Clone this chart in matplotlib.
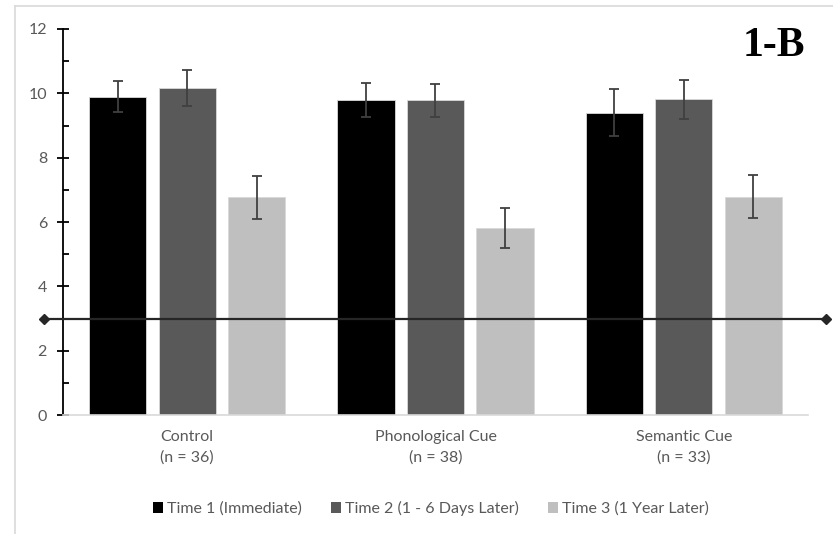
import numpy as np
import matplotlib
matplotlib.use('Agg')
import matplotlib.pyplot as plt
from matplotlib.lines import Line2D
from matplotlib.patches import Patch
from matplotlib.ticker import MultipleLocator

# group labels and scores per testing time
groups = ['Control\n(n = 36)', 'Phonological Cue\n(n = 38)', 'Semantic Cue\n(n = 33)']
series = ['Time 1 (Immediate)', 'Time 2 (1 - 6 Days Later)', 'Time 3 (1 Year Later)']
means = [[9.90, 9.80, 9.40],
         [10.17, 9.78, 9.81],
         [6.77, 5.82, 6.79]]
errors = [[0.47, 0.53, 0.72],
          [0.55, 0.52, 0.62],
          [0.67, 0.62, 0.67]]
chance = 3
colors = ['#000000', '#595959', '#bfbfbf']

plt.rcParams['font.family'] = ['Lato', 'DejaVu Sans']

fig = plt.figure(figsize=(8.33, 5.34), dpi=100)
ax = fig.add_axes([0.0756, 0.2228, 0.8944, 0.7229])

x = np.arange(len(groups))
width = 0.23
step = 0.28
for i in range(len(series)):
    ax.bar(x + (i - 1) * step, means[i], width, color=colors[i],
           edgecolor='#d9d9d9', linewidth=0.6, label=series[i], zorder=2)
    ax.errorbar(x + (i - 1) * step, means[i], yerr=errors[i], fmt='none',
                ecolor='#404040', elinewidth=1.3, capsize=3.5, capthick=1.3,
                zorder=3)

# chance level line running past both ends of the plot
ax.plot([-0.0255, 1.024], [chance, chance], color='#262626', lw=1.6,
        marker='D', markersize=5, transform=ax.get_yaxis_transform(),
        clip_on=False, zorder=4)

ax.set_xlim(-0.5, 2.5)
ax.set_ylim(0, 12)
ax.set_xticks(x)
ax.set_xticklabels(groups, color='#595959', fontsize=11.5, linespacing=1.55)
ax.tick_params(axis='x', length=0, pad=11)
ax.yaxis.set_major_locator(MultipleLocator(2))
ax.yaxis.set_minor_locator(MultipleLocator(1))
ax.tick_params(axis='y', which='major', direction='inout', length=9,
               width=1.3, color='black', labelcolor='#595959', labelsize=11.5, pad=7)
ax.tick_params(axis='y', which='minor', direction='in', length=4,
               width=1.3, color='black')

for side in ['top', 'right']:
    ax.spines[side].set_visible(False)
ax.spines['left'].set_color('black')
ax.spines['left'].set_linewidth(1.3)
ax.spines['bottom'].set_color('#d9d9d9')
ax.spines['bottom'].set_linewidth(1.2)

ax.text(0.996, 1.006, '1-B', transform=ax.transAxes, ha='right', va='top',
        fontsize=30, fontweight='bold', family='Liberation Serif')

handles = [Patch(facecolor=c, edgecolor='none') for c in colors]
fig.legend(handles, series, loc='center', bbox_to_anchor=(0.517, 0.048),
           ncol=3, frameon=False, fontsize=11.5, labelcolor='#595959',
           handlelength=0.65, handleheight=0.65, handletextpad=0.25,
           columnspacing=1.8)

# light outer frame on the left and top
fig.add_artist(Line2D([15 / 833, 15 / 833], [0, 1 - 6 / 534],
                      transform=fig.transFigure, color='#d9d9d9', lw=1.2))
fig.add_artist(Line2D([15 / 833, 1], [1 - 6 / 534, 1 - 6 / 534],
                      transform=fig.transFigure, color='#d9d9d9', lw=1.2))

fig.savefig('out.png', dpi=100)
